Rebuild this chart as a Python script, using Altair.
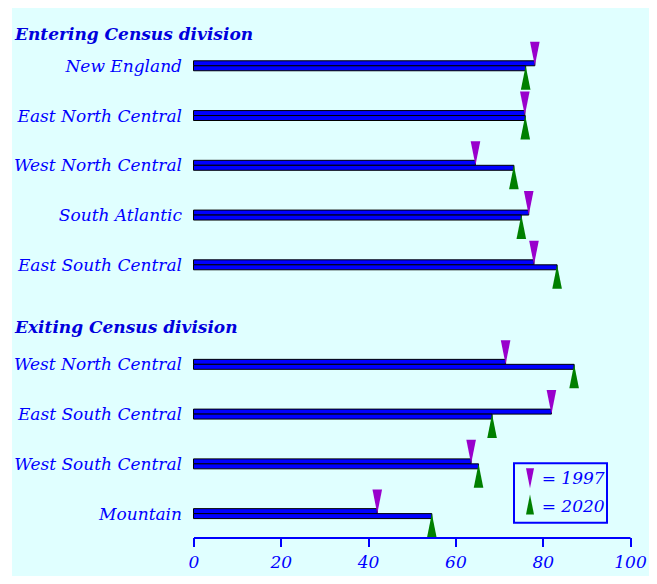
import altair as alt
import pandas as pd

# ---- data ----
entering_divisions = ["New England", "East North Central", "West North Central",
                      "South Atlantic", "East South Central"]
entering_1997 = [78.2, 75.9, 64.6, 76.8, 78.0]
entering_2020 = [76.1, 76.0, 73.4, 75.1, 83.3]

exiting_divisions = ["West North Central", "East South Central",
                     "West South Central", "Mountain"]
exiting_1997 = [71.5, 82.0, 63.6, 42.1]
exiting_2020 = [87.2, 68.4, 65.3, 54.6]

x_ticks = [0, 20, 40, 60, 80, 100]
section_titles = ["Entering Census division", "Exiting Census division"]
legend_labels = ["= 1997", "= 2020"]

# ---- table for the library ----
n_in = len(entering_divisions)
rows = list(range(n_in)) + [n_in + 1 + i for i in range(len(exiting_divisions))]
df = pd.DataFrame({
    "division": entering_divisions + exiting_divisions,
    "v1997": entering_1997 + exiting_1997,
    "v2020": entering_2020 + exiting_2020,
    "row": rows,
})
half = 0.1
df["top"] = df["row"] - half
df["bottom"] = df["row"] + half

BLUE = "#0000ff"
PURPLE = "#9900cc"
GREEN = "#008000"
CYAN = "#e0ffff"
FONT = "DejaVu Serif"

W, H = 436.5, 517.5
xscale = alt.Scale(domain=[0, 100], nice=False, zero=False)
yscale = alt.Scale(domain=[-0.92, 9.48], reverse=True, nice=False, zero=False)
xaxis = alt.Axis(values=x_ticks, domainColor=BLUE, domainWidth=2, tickColor=BLUE,
                 tickWidth=2, tickSize=9, labelColor=BLUE, labelFont=FONT,
                 labelFontStyle="italic", labelFontSize=17, labelPadding=8,
                 grid=False, title=None, labelFlush=False, zindex=1)

DOWN = "M-0.2,-1L0.2,-1L0,0Z"
UP = "M-0.2,1L0.2,1L0,0Z"

one = pd.DataFrame({"k": [0]})

bg = alt.Chart(one).mark_rect(fill=CYAN, strokeWidth=0).encode(
    x=alt.value(-181.5), x2=alt.value(455.5), y=alt.value(-12), y2=alt.value(556))

base = alt.Chart(df)
bar97 = base.mark_rect(fill=BLUE, stroke="black", strokeWidth=1).encode(
    x=alt.X("v1997:Q", scale=xscale, axis=xaxis), x2=alt.datum(0),
    y=alt.Y("top:Q", scale=yscale, axis=None), y2="row:Q")
bar20 = base.mark_rect(fill=BLUE, stroke="black", strokeWidth=1).encode(
    x=alt.X("v2020:Q", scale=xscale, axis=xaxis), x2=alt.datum(0),
    y=alt.Y("row:Q", scale=yscale, axis=None), y2="bottom:Q")

tri97 = base.mark_point(shape=DOWN, size=2304, filled=True, color=PURPLE,
                        strokeWidth=0, opacity=1).encode(
    x=alt.X("v1997:Q", scale=xscale, axis=xaxis),
    y=alt.Y("row:Q", scale=yscale, axis=None))
tri20 = base.mark_point(shape=UP, size=2304, filled=True, color=GREEN,
                        strokeWidth=0, opacity=1).encode(
    x=alt.X("v2020:Q", scale=xscale, axis=xaxis),
    y=alt.Y("row:Q", scale=yscale, axis=None))

labels = base.mark_text(align="right", baseline="alphabetic", dy=6, font=FONT,
                        fontStyle="italic", fontSize=17, color=BLUE).encode(
    x=alt.value(-11.5), y=alt.Y("row:Q", scale=yscale, axis=None),
    text="division:N")

def header(title, ypix):
    return alt.Chart(pd.DataFrame({"t": [title]})).mark_text(
        align="left", baseline="alphabetic", font=FONT, fontStyle="italic",
        fontWeight="bold", fontSize=17, color="#0000dd").encode(
        x=alt.value(-178.5), y=alt.value(ypix), text="t:N")

h1 = header(section_titles[0], 20)
h2 = header(section_titles[1], 313.3)

leg_box = alt.Chart(one).mark_rect(fill=CYAN, stroke=BLUE, strokeWidth=2).encode(
    x=alt.value(320.5), x2=alt.value(413.5), y=alt.value(443.3), y2=alt.value(502.7))
leg_t1 = alt.Chart(one).mark_point(shape=DOWN, size=1600, filled=True, color=PURPLE,
                                   strokeWidth=0, opacity=1).encode(
    x=alt.value(336.5), y=alt.value(468.3))
leg_t2 = alt.Chart(one).mark_point(shape=UP, size=1600, filled=True, color=GREEN,
                                   strokeWidth=0, opacity=1).encode(
    x=alt.value(336.5), y=alt.value(474.5))

def leg_text(label, ypix):
    return alt.Chart(pd.DataFrame({"t": [label]})).mark_text(
        align="left", baseline="alphabetic", font=FONT, fontStyle="italic",
        fontSize=17, color=BLUE).encode(
        x=alt.value(348.2), y=alt.value(ypix), text="t:N")

leg_l1 = leg_text(legend_labels[0], 464.3)
leg_l2 = leg_text(legend_labels[1], 491.7)

chart = alt.layer(
    bg, bar97, bar20, tri97, tri20, labels, h1, h2,
    leg_box, leg_t1, leg_t2, leg_l1, leg_l2
).properties(
    width=W, height=H,
    autosize=alt.AutoSizeParams(type="none"),
    padding={"left": 185.5, "top": 12, "right": 19, "bottom": 38.5},
    background="white",
).configure_view(strokeWidth=0)

chart.save("out.html", embed_options={"renderer": "svg", "actions": False})
